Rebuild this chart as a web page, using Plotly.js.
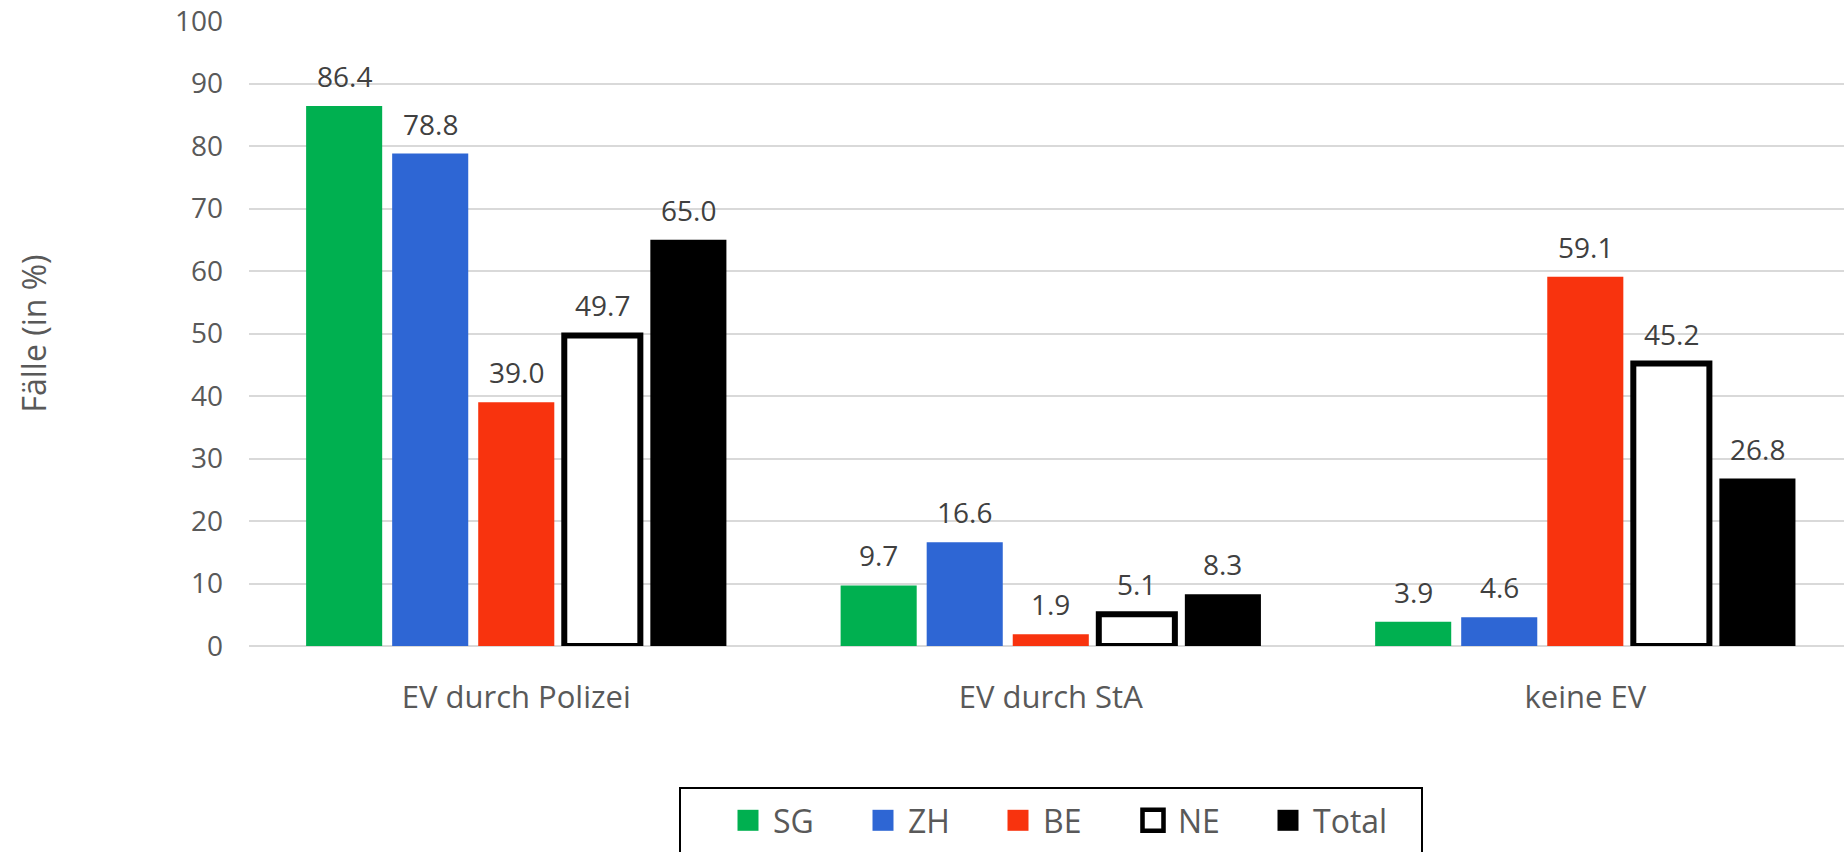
<!DOCTYPE html>
<html>
<head>
<meta charset="utf-8">
<script src="https://cdn.plot.ly/plotly-3.0.1.min.js"></script>
<style>html,body{margin:0;padding:0;background:#fff;}#chart{width:1844px;height:852px;}</style>
</head>
<body>
<div id="chart"></div>
<script>
const categories = ['EV durch Polizei', 'EV durch StA', 'keine EV'];
const seriesNames = ['SG', 'ZH', 'BE', 'NE', 'Total'];
const SG = [86.4, 9.7, 3.9];
const ZH = [78.8, 16.6, 4.6];
const BE = [39.0, 1.9, 59.1];
const NE = [49.7, 5.1, 45.2];
const Total = [65.0, 8.3, 26.8];
const yTicks = [0, 10, 20, 30, 40, 50, 60, 70, 80, 90, 100];

const seriesValues = [SG, ZH, BE, NE, Total];
const fills = ['#00B050', '#2E66D4', '#F8330E', '#FFFFFF', '#000000'];
const lines = [0, 0, 0, 6, 0];

const FONT = '"Open Sans", "Noto Sans", sans-serif';
const bargap = 0.195;
const nS = seriesValues.length;

const traces = seriesValues.map((vals, i) => ({
  type: 'bar',
  name: seriesNames[i],
  x: categories,
  y: vals,
  marker: { color: fills[i], line: { color: '#000000', width: lines[i] } },
  hoverinfo: 'x+y+name'
}));

const slot = (1 - bargap) / nS;
const annotations = [];
seriesValues.forEach((vals, i) => {
  vals.forEach((v, j) => {
    annotations.push({
      x: j + (i - (nS - 1) / 2) * slot,
      y: v,
      xref: 'x', yref: 'y',
      text: v.toFixed(1),
      showarrow: false,
      yanchor: 'bottom',
      yshift: 9,
      font: { family: FONT, size: 28, color: '#404040' }
    });
  });
});

// plot area in px: left 249, right 1844, top 21, bottom 646
const px2x = p => (p - 249) / 1595;
const px2y = p => (646 - p) / 625;

const layout = {
  width: 1844, height: 852,
  margin: { l: 249, r: 0, t: 21, b: 206 },
  paper_bgcolor: '#ffffff', plot_bgcolor: '#ffffff',
  font: { family: FONT, color: '#595959' },
  barmode: 'group',
  bargap: bargap,
  bargroupgap: 0.116,
  xaxis: {
    type: 'category',
    range: [-0.5, 2.484],
    showgrid: false, zeroline: false, showline: false,
    ticks: '',
    ticklabelstandoff: 30,
    tickfont: { family: FONT, size: 31, color: '#595959' }
  },
  yaxis: {
    range: [0, 100],
    tickvals: yTicks,
    ticktext: yTicks.map(String),
    showgrid: true, gridcolor: '#D9D9D9', gridwidth: 2,
    zeroline: true, zerolinecolor: '#D9D9D9', zerolinewidth: 2,
    showline: false, ticks: '',
    ticklabelstandoff: 25,
    tickfont: { family: FONT, size: 28, color: '#595959' },
    title: { text: 'Fälle (in %)', standoff: 118, font: { family: FONT, size: 32, color: '#595959' } }
  },
  showlegend: true,
  legend: {
    orientation: 'h',
    x: px2x(733), xanchor: 'left',
    y: px2y(793), yanchor: 'top',
    borderwidth: 0,
    bgcolor: 'rgba(0,0,0,0)',
    entrywidth: 90,
    font: { family: FONT, size: 32, color: '#595959' },
    traceorder: 'normal'
  },
  shapes: [{
    type: 'rect', xref: 'paper', yref: 'paper',
    x0: px2x(680), x1: px2x(1422), y0: px2y(788), y1: px2y(880),
    line: { color: '#000000', width: 2 }, fillcolor: 'rgba(0,0,0,0)'
  }],
  annotations: annotations
};

Plotly.newPlot('chart', traces, layout, { displayModeBar: false, staticPlot: true }).then(gd => {
  gd.querySelectorAll('.legend [clip-path]').forEach(el => el.removeAttribute('clip-path'));
  gd.querySelectorAll('.legend .legendpoints path').forEach(p => {
    p.setAttribute('transform', 'translate(15,0) scale(1.75)');
    const sw = parseFloat(p.style.strokeWidth || '0');
    if (sw > 0) p.style.strokeWidth = '2.6px';
  });
});
</script>
</body>
</html>
